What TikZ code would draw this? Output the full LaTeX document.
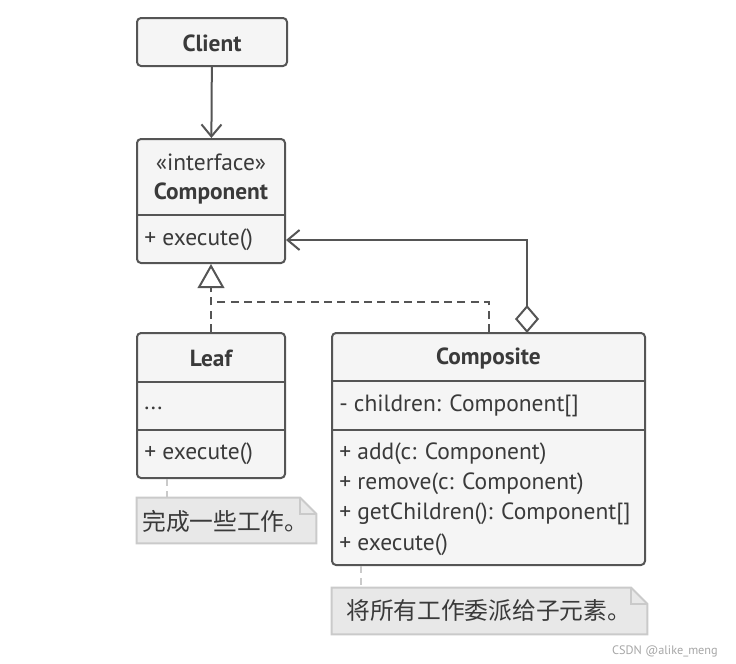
\documentclass[tikz,border=0pt]{standalone}
\usepackage{fontspec}
\setmainfont{PT Sans}
\newfontfamily\cjk{Noto Sans CJK SC}
\usetikzlibrary{arrows.meta}

\definecolor{umlline}{HTML}{555555}
\definecolor{umlfill}{HTML}{F5F5F5}
\definecolor{umltext}{HTML}{3A3A3A}
\definecolor{notefill}{HTML}{E8E8E8}
\definecolor{noteline}{HTML}{CACACA}

\tikzset{
  classbox/.style={draw=umlline, line width=1.5pt, fill=umlfill, rounded corners=3pt, inner sep=0pt},
  classname/.style={font=\bfseries\fontsize{17.5}{20}\selectfont, text=umltext, inner sep=0pt},
  member/.style={font=\fontsize{17.6}{20}\selectfont, text=umltext, anchor=west, inner sep=0pt},
  divider/.style={draw=umlline, line width=1.5pt},
  assoc/.style={draw=umlline, line width=1.5pt},
  realize/.style={draw=umlline, line width=1.5pt, dash pattern=on 6pt off 4pt},
  notebox/.style={inner sep=0pt},
  notetext/.style={font=\cjk\fontsize{17.8}{20}\selectfont, text=umltext, anchor=west, inner sep=0pt},
  notelink/.style={draw=noteline, line width=1.5pt, dash pattern=on 5pt off 4pt},
}

\begin{document}
\begin{tikzpicture}[x=0.75pt,y=-0.75pt]
  \useasboundingbox (0,0) rectangle (736,664);

  % Client
  \node[classbox, minimum width=112.5pt, minimum height=36pt] (client) at (212,42) {};
  \node[classname] (clientname) at (212,43) {Client};

  % Component
  \node[classbox, minimum width=111pt, minimum height=93pt] (comp) at (211,201) {};
  \node[member, anchor=center] (compst) at (211,162) {«interface»};
  \node[classname] (compname) at (211,194) {Component};
  \draw[divider] (comp.west |- 0,215) -- (comp.east |- 0,215);
  \node[member] (compop) at (144,240) {+ execute()};

  % Leaf
  \node[classbox, minimum width=111pt, minimum height=108.75pt] (leaf) at (211,405.5) {};
  \node[classname] (leafname) at (211,358) {Leaf};
  \draw[divider] (leaf.west |- 0,382) -- (leaf.east |- 0,382);
  \node[member] (leafattr) at (144,408) {...};
  \draw[divider] (leaf.west |- 0,430) -- (leaf.east |- 0,430);
  \node[member] (leafop) at (144,454) {+ execute()};

  % Composite
  \node[classbox, minimum width=234.75pt, minimum height=174pt] (compo) at (488.5,449) {};
  \node[classname] (componame) at (488.5,358) {Composite};
  \draw[divider] (compo.west |- 0,381) -- (compo.east |- 0,381);
  \node[member] (compoattr) at (339,406) {- children: Component[]};
  \draw[divider] (compo.west |- 0,430) -- (compo.east |- 0,430);
  \node[member] (compoadd) at (339,454) {+ add(c: Component)};
  \node[member] (comporem) at (339,484) {+ remove(c: Component)};
  \node[member] (compoget) at (339,514) {+ getChildren(): Component[]};
  \node[member] (compoexe) at (339,545) {+ execute()};

  % Connectors
  \draw[assoc, -{Straight Barb[length=9pt, width=15pt, line width=1.5pt]}] (client) -- (comp);
  \coordinate (split) at (211,302);
  \coordinate (agg) at (527,333);
  \draw[realize, -{Triangle[open, length=18pt, width=20pt, line width=1.5pt, fill=white]}] (leaf) -- (comp);
  \draw[realize] (compo.north) |- (split);
  \draw[assoc, {Diamond[open, length=21pt, width=18pt, line width=1.5pt, fill=white]}-{Straight Barb[length=9pt, width=15pt, line width=1.5pt]}]
    (agg) |- (comp.east |- compop);

  % Notes
  \node[notebox, minimum width=134.25pt, minimum height=33.75pt] (note1) at (226.5,520.5) {};
  \node[notebox, minimum width=236.25pt, minimum height=34.5pt] (note2) at (489.5,611) {};
  \foreach \n in {note1,note2} {
    \draw[draw=noteline, fill=notefill, line width=1.5pt]
      (\n.north west) -- ([xshift=-12pt]\n.north east) -- ([yshift=-12pt]\n.north east)
      -- (\n.south east) -- (\n.south west) -- cycle;
    \draw[draw=noteline, line width=1.5pt]
      ([xshift=-12pt]\n.north east) |- ([yshift=-12pt]\n.north east);
  }
  \node[notetext] (note1text) at (142,521) {完成一些工作。};
  \node[notetext] (note2text) at (346,611) {将所有工作委派给子元素。};
  \draw[notelink] (leaf.south -| 167,0) -- (note1.north -| 167,0);
  \draw[notelink] (compo.south -| 361,0) -- (note2.north -| 361,0);

  % Watermark
  \node[font=\fontsize{9.2}{11}\selectfont, text=black!35, anchor=east, inner sep=0pt] (mark) at (718,651) {CSDN @alike\_meng};
\end{tikzpicture}
\end{document}
